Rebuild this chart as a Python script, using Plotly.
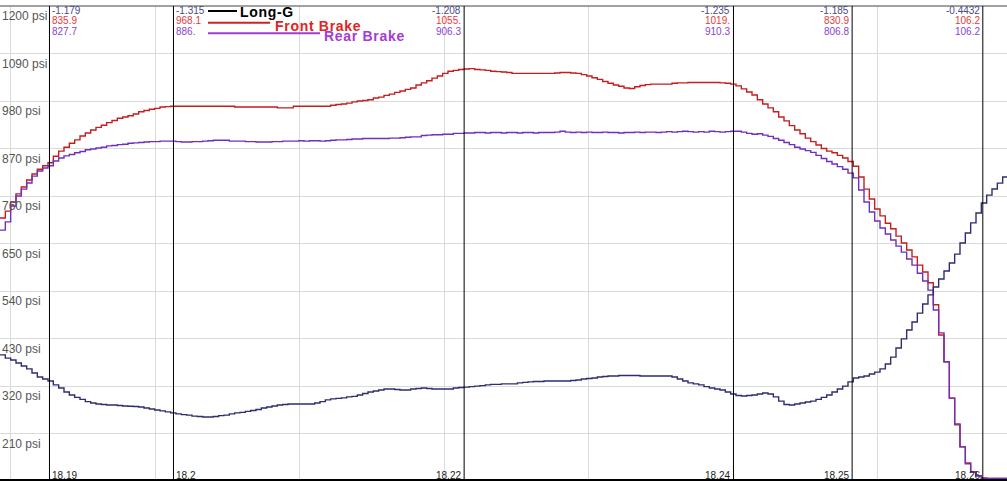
import plotly.graph_objects as go

# ---------------- data ----------------
T0 = 18.18629          # time of first sample (s)
DT = 0.0004            # sample interval (s)
X_RANGE = [18.18629, 18.261815]

front_brake = [
    709, 725, 746, 765, 781, 797, 811, 822, 830, 837,
    852, 864, 873, 882, 890, 899, 906, 913, 919, 924,
    930, 935, 940, 943, 946, 950, 955, 958, 961, 963,
    966, 967, 968, 968, 968, 968, 968, 968, 968, 968,
    968, 968, 968, 968, 966, 966, 966, 966, 966, 966,
    966, 966, 964, 964, 964, 968, 968, 968, 968, 968,
    968, 968, 970, 972, 973, 975, 978, 980, 981, 983,
    987, 989, 993, 996, 1000, 1003, 1007, 1010, 1017, 1022,
    1027, 1033, 1038, 1044, 1049, 1051, 1053, 1054, 1055, 1053,
    1052, 1051, 1049, 1048, 1047, 1046, 1044, 1044, 1044, 1044,
    1044, 1044, 1044, 1044, 1045, 1046, 1046, 1045, 1044, 1041,
    1038, 1034, 1030, 1025, 1021, 1017, 1014, 1010, 1009, 1013,
    1016, 1018, 1019, 1019, 1019, 1019, 1021, 1022, 1022, 1023,
    1023, 1023, 1023, 1023, 1023, 1022, 1021, 1019, 1015, 1008,
    1001, 994, 983, 973, 964, 955, 943, 934, 923, 913,
    904, 894, 886, 878, 870, 864, 860, 854, 848, 840,
    829, 804, 776, 753, 730, 714, 697, 684, 667, 651,
    635, 619, 600, 584, 559, 508, 438, 376, 292, 232,
    179, 142, 121, 112, 107, 106, 106, 106, 106, 106,
]

rear_brake = [
    681, 700, 737, 760, 776, 790, 806, 818, 825, 830,
    841, 848, 853, 856, 860, 863, 867, 869, 871, 873,
    876, 877, 879, 880, 882, 883, 884, 885, 886, 886,
    887, 887, 887, 886, 885, 885, 886, 886, 887, 888,
    889, 889, 889, 887, 887, 887, 886, 886, 885, 885,
    885, 886, 886, 887, 887, 887, 888, 887, 888, 888,
    887, 888, 889, 890, 890, 891, 892, 892, 893, 893,
    893, 893, 893, 894, 894, 895, 896, 897, 897, 900,
    901, 902, 902, 903, 903, 905, 905, 906, 906, 907,
    907, 906, 907, 907, 906, 907, 907, 906, 907, 907,
    906, 907, 907, 907, 908, 910, 908, 907, 908, 907,
    908, 907, 907, 908, 907, 907, 906, 907, 907, 908,
    907, 908, 908, 907, 908, 909, 908, 909, 910, 909,
    908, 909, 908, 910, 909, 908, 909, 910, 910, 908,
    905, 903, 904, 901, 898, 893, 889, 884, 879, 873,
    869, 865, 861, 854, 847, 840, 834, 828, 822, 813,
    802, 774, 746, 723, 702, 686, 672, 658, 644, 630,
    614, 600, 581, 563, 542, 496, 443, 376, 292, 230,
    179, 140, 121, 112, 106, 106, 106, 106, 106, 106,
]

long_g = [
    -1.077, -1.090, -1.098, -1.110, -1.122, -1.134, -1.151, -1.167, -1.175, -1.183,
    -1.199, -1.212, -1.228, -1.240, -1.250, -1.258, -1.267, -1.273, -1.277, -1.279,
    -1.281, -1.281, -1.283, -1.285, -1.286, -1.287, -1.289, -1.293, -1.297, -1.301,
    -1.305, -1.309, -1.313, -1.317, -1.320, -1.322, -1.326, -1.328, -1.330, -1.330,
    -1.328, -1.324, -1.322, -1.317, -1.313, -1.311, -1.307, -1.303, -1.299, -1.293,
    -1.289, -1.285, -1.281, -1.279, -1.277, -1.277, -1.277, -1.277, -1.277, -1.273,
    -1.267, -1.260, -1.256, -1.254, -1.252, -1.248, -1.246, -1.240, -1.234, -1.228,
    -1.224, -1.220, -1.216, -1.216, -1.218, -1.220, -1.220, -1.216, -1.214, -1.212,
    -1.214, -1.216, -1.216, -1.216, -1.216, -1.212, -1.210, -1.208, -1.206, -1.204,
    -1.202, -1.199, -1.197, -1.197, -1.195, -1.195, -1.195, -1.191, -1.189, -1.187,
    -1.185, -1.185, -1.183, -1.183, -1.183, -1.183, -1.183, -1.181, -1.179, -1.175,
    -1.173, -1.171, -1.167, -1.165, -1.163, -1.163, -1.161, -1.161, -1.161, -1.161,
    -1.163, -1.163, -1.163, -1.163, -1.163, -1.163, -1.167, -1.175, -1.183, -1.191,
    -1.195, -1.199, -1.206, -1.212, -1.216, -1.220, -1.228, -1.236, -1.242, -1.244,
    -1.242, -1.240, -1.236, -1.232, -1.236, -1.248, -1.265, -1.279, -1.281, -1.277,
    -1.273, -1.269, -1.265, -1.258, -1.250, -1.240, -1.228, -1.216, -1.204, -1.187,
    -1.171, -1.167, -1.163, -1.155, -1.147, -1.134, -1.114, -1.086, -1.049, -1.012,
    -0.976, -0.943, -0.907, -0.870, -0.833, -0.801, -0.768, -0.736, -0.703, -0.667,
    -0.622, -0.581, -0.540, -0.500, -0.459, -0.427, -0.402, -0.378, -0.353, -0.333,
]

# cursors
cursor_times = [18.19, 18.1993, 18.2211, 18.2413, 18.2502, 18.2600]
cursor_labels = ["18.19", "18.2", "18.22", "18.24", "18.25", "18.26"]
cursor_longg = ["-1.179", "-1.315", "-1.208", "-1.235", "-1.185", "-0.4432"]
cursor_front = ["835.9", "968.1", "1055.", "1019.", "830.9", "106.2"]
cursor_rear = ["827.7", "886.", "906.3", "910.3", "806.8", "106.2"]
cursor_text_right = [True, True, False, False, False, False]

psi_ticks = [210, 320, 430, 540, 650, 760, 870, 980, 1090, 1200]
PSI_RANGE = [104.63, 1200]
G_RANGE = [-1.582, 0.3425]

GRID_TICK0 = 18.197915
GRID_DTICK = 0.0108375

# ---------------- styles ----------------
C_LONGG = "#2e2e6e"
C_FRONT = "#c41e1e"
C_REAR = "#7030b8"
FONT = "Liberation Sans, Arial, sans-serif"

W, H = 1007, 481
MT, MB = 6, 2
PH = H - MT - MB


def py(ypx):
    """pixel row -> paper y"""
    return (H - MB - ypx) / PH


def px(xpx):
    return xpx / W


def times(n):
    return [round(T0 + DT * i, 6) for i in range(n)]


fig = go.Figure()
fig.add_trace(go.Scatter(x=times(len(long_g)), y=long_g, yaxis="y2", mode="lines",
                         line=dict(color=C_LONGG, width=1.4, shape="hv"), name="Long-G"))
fig.add_trace(go.Scatter(x=times(len(front_brake)), y=front_brake, mode="lines",
                         line=dict(color=C_FRONT, width=1.4, shape="hv"), name="Front Brake"))
fig.add_trace(go.Scatter(x=times(len(rear_brake)), y=rear_brake, mode="lines",
                         line=dict(color=C_REAR, width=1.4, shape="hv"), name="Rear Brake"))

shapes = []
annotations = []

# top border
shapes.append(dict(type="line", xref="paper", yref="paper", x0=0, x1=1, y0=1, y1=1,
                   line=dict(color="#444444", width=1)))

# cursor lines & texts
for i, t in enumerate(cursor_times):
    shapes.append(dict(type="line", xref="x", yref="paper", x0=t, x1=t, y0=0, y1=1,
                       line=dict(color="black", width=1)))
    right = cursor_text_right[i]
    anchor = "left" if right else "right"
    shift = 1 if right else -1
    for txt, col, ypx in ((cursor_longg[i], "#4a4a8a", 10.5),
                          (cursor_front[i], "#e03c3c", 20.5),
                          (cursor_rear[i], "#8a44cc", 31)):
        annotations.append(dict(xref="x", yref="paper", x=t, y=py(ypx), text=txt,
                                showarrow=False, xanchor=anchor, yanchor="middle",
                                xshift=shift, font=dict(family=FONT, size=10, color=col)))
    annotations.append(dict(xref="x", yref="paper", x=t, y=py(475), text=cursor_labels[i],
                            showarrow=False, xanchor=anchor, yanchor="middle", xshift=shift,
                            font=dict(family=FONT, size=10, color="#222222")))

# y labels
for v in psi_ticks:
    annotations.append(dict(xref="paper", yref="y", x=0, y=v, text=f"{v} psi",
                            showarrow=False, xanchor="left", yanchor="top", xshift=0, yshift=-1,
                            font=dict(family=FONT, size=12, color="#555555")))

# legend
legend_items = [("Long-G", "#000000", "#000000", 237, 11, 11.5),
                ("Front Brake", "#d42020", "#e02424", 270, 22.7, 26),
                ("Rear Brake", "#a040d0", "#a63ad4", 320, 33.3, 36.5)]
text_x = [240, 275, 324]
for (name, lcol, tcol, xend, ly, ty), tx in zip(legend_items, text_x):
    shapes.append(dict(type="line", xref="paper", yref="paper", x0=px(208), x1=px(xend),
                       y0=py(ly), y1=py(ly), line=dict(color=lcol, width=2)))
    annotations.append(dict(xref="paper", yref="paper", x=px(tx - 2), y=py(ty),
                            text=f'<b><span style="letter-spacing:0.7px">{name}</span></b>',
                            showarrow=False, xanchor="left", yanchor="middle",
                            font=dict(family=FONT, size=14, color=tcol)))

fig.update_layout(
    width=W, height=H,
    margin=dict(l=0, r=0, t=MT, b=MB, pad=0),
    paper_bgcolor="white", plot_bgcolor="white",
    showlegend=False,
    xaxis=dict(range=X_RANGE, showgrid=True, gridcolor="#dadada", gridwidth=1,
               tick0=GRID_TICK0, dtick=GRID_DTICK, tickmode="linear",
               showticklabels=False, ticks="", zeroline=False,
               showline=True, linecolor="black", linewidth=3),
    yaxis=dict(range=PSI_RANGE, tickvals=psi_ticks, showgrid=True, gridcolor="#dadada",
               gridwidth=1, showticklabels=False, ticks="", zeroline=False, showline=False),
    yaxis2=dict(range=G_RANGE, overlaying="y", visible=False),
    shapes=shapes,
    annotations=annotations,
)

fig.write_html("out.html", config={"displayModeBar": False},
               post_script="document.body.style.margin='0';document.body.style.overflow='hidden';")
